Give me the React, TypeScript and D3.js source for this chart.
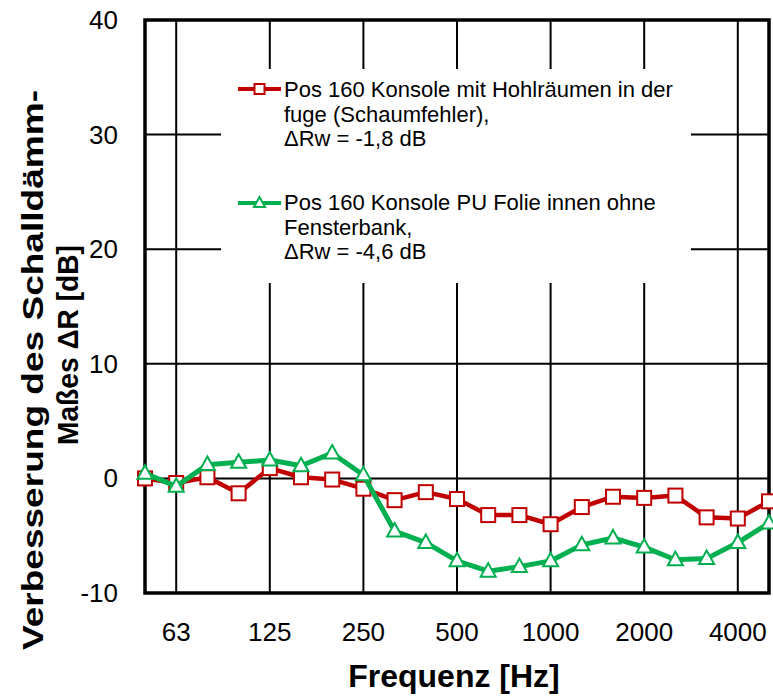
import React from "react";
import * as d3 from "d3";

const freqs = ["50","63","80","100","125","160","200","250","315","400","500","630","800","1000","1250","1600","2000","2500","3150","4000","5000"];
const redValues = [0.0,-0.4,0.1,-1.3,0.9,0.1,-0.1,-0.9,-1.9,-1.2,-1.8,-3.2,-3.2,-4.0,-2.5,-1.6,-1.7,-1.5,-3.4,-3.5,-2.0];
const greenValues = [0.45,-0.7,1.2,1.4,1.6,1.1,2.2,0.3,-4.6,-5.6,-7.2,-8.1,-7.7,-7.2,-5.8,-5.2,-6.0,-7.1,-7.0,-5.6,-3.9];
const xTickLabels = ["63","125","250","500","1000","2000","4000"];
const yTicks = [-10, 0, 10, 20, 30, 40];
const legendRed = ["Pos 160 Konsole mit Hohlräumen in der", "fuge (Schaumfehler),", "ΔRw = -1,8 dB"];
const legendGreen = ["Pos 160 Konsole PU Folie innen ohne", "Fensterbank,", "ΔRw = -4,6 dB"];
const yTitle = ["Verbesserung des Schalldämm-", "Maßes ΔR [dB]"];
const xTitle = "Frequenz [Hz]";

const RED = "#C00000";
const GREEN = "#00B050";
const FONT = "'Liberation Sans', Arial, sans-serif";

export default function App() {
  const W = 773, H = 698;
  const L = 145, R = 769, T = 20, B = 593;
  const x = d3.scalePoint<string>().domain(freqs).range([L, R]);
  const y = d3.scaleLinear().domain([-10, 40]).range([B, T]);
  const line = d3.line<number>().x((_, i) => x(freqs[i])!).y((v) => y(v));

  const box = { x0: 221, x1: 691, y0: 69, y1: 283 };

  const square = (cx: number, cy: number, s: number, key: string) => (
    <rect key={key} x={cx - s / 2} y={cy - s / 2} width={s} height={s} fill="#fff" stroke={RED} strokeWidth={2} />
  );
  const tri = (cx: number, cy: number, s: number, key: string) => {
    const h = s * 0.9;
    const p = `M${cx},${cy - h * 0.6} L${cx + s / 2},${cy + h * 0.4} L${cx - s / 2},${cy + h * 0.4} Z`;
    return <path key={key} d={p} fill="#fff" stroke={GREEN} strokeWidth={2} />;
  };

  return (
    <svg width={W} height={H} style={{ position: "absolute", left: 0, top: 0, background: "#fff" }} fontFamily={FONT}>
      <rect x={0} y={0} width={W} height={H} fill="#fff" />
      {yTicks.filter((t) => t > -10 && t < 40).map((t) => (
        <line key={"h" + t} x1={L} x2={R} y1={y(t)} y2={y(t)} stroke="#000" strokeWidth={2} />
      ))}
      {xTickLabels.map((f) => (
        <line key={"v" + f} x1={x(f)} x2={x(f)} y1={T} y2={B} stroke="#000" strokeWidth={2} />
      ))}
      <rect x={box.x0} y={box.y0} width={box.x1 - box.x0} height={box.y1 - box.y0} fill="#fff" />
      <rect x={L} y={T} width={R - L} height={B - T} fill="none" stroke="#000" strokeWidth={3.5} />
      <path d={line(redValues)!} fill="none" stroke={RED} strokeWidth={4.5} strokeLinejoin="round" />
      {redValues.map((v, i) => square(x(freqs[i])!, y(v), 14, "r" + i))}
      <path d={line(greenValues)!} fill="none" stroke={GREEN} strokeWidth={5} strokeLinejoin="round" />
      {greenValues.map((v, i) => tri(x(freqs[i])!, y(v), 15, "g" + i))}
      {yTicks.map((t) => (
        <text key={"yt" + t} x={118} y={y(t) + 9} textAnchor="end" fontSize={26} fill="#000">{t}</text>
      ))}
      {xTickLabels.map((f) => (
        <text key={"xt" + f} x={x(f)} y={641} textAnchor="middle" fontSize={26} fill="#000">{f}</text>
      ))}
      <text x={454} y={687} textAnchor="middle" fontSize={32} fontWeight="bold" fill="#000">{xTitle}</text>
      <text transform="translate(43,370) rotate(-90)" textAnchor="middle" fontSize={29} fontWeight="bold" fill="#000"
        textLength={560} lengthAdjust="spacingAndGlyphs">{yTitle[0]}</text>
      <text transform="translate(78,345) rotate(-90)" textAnchor="middle" fontSize={30} fontWeight="bold" fill="#000"
        textLength={200} lengthAdjust="spacingAndGlyphs">{yTitle[1]}</text>
      <line x1={238} x2={281} y1={89} y2={89} stroke={RED} strokeWidth={4} />
      {square(259.5, 89, 10, "lr")}
      {legendRed.map((s, i) => (
        <text key={"lr" + i} x={284} y={97 + i * 24.6} fontSize={22} fill="#000">{s}</text>
      ))}
      <line x1={238} x2={281} y1={203} y2={203} stroke={GREEN} strokeWidth={4} />
      {tri(259.5, 203, 11, "lg")}
      {legendGreen.map((s, i) => (
        <text key={"lg" + i} x={284} y={210 + i * 24.6} fontSize={22} fill="#000">{s}</text>
      ))}
    </svg>
  );
}
